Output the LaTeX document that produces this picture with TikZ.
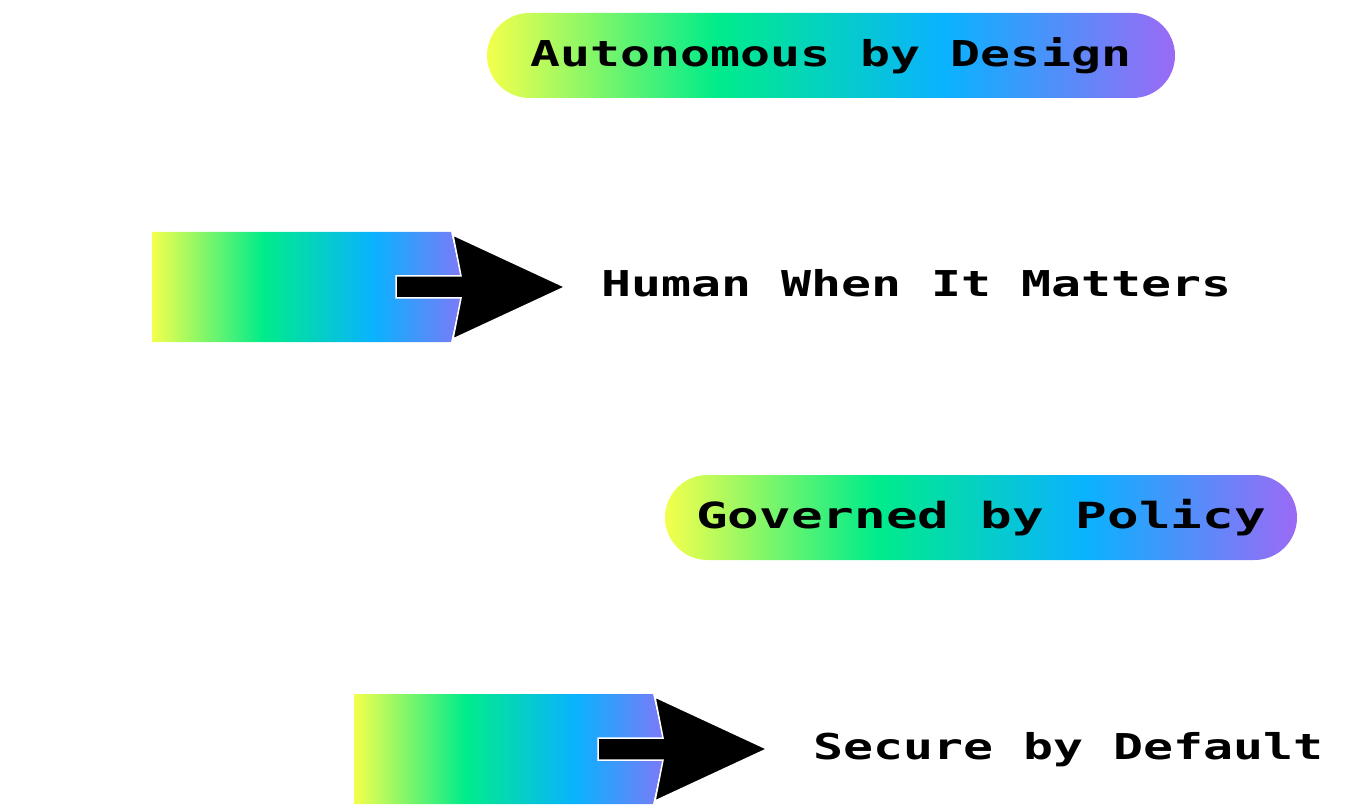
\documentclass[tikz,border=0pt]{standalone}
\usepackage{fontspec}
\newfontfamily\pixfont[FakeStretch=1.4]{DejaVu Sans Mono}
\newfontfamily\pixwide[FakeStretch=1.46]{DejaVu Sans Mono}
\usetikzlibrary{positioning}
\definecolor{gradYellow}{RGB}{244,255,76}
\definecolor{gradGreen}{RGB}{0,236,138}
\definecolor{gradBlue}{RGB}{10,178,255}
\definecolor{gradPurple}{RGB}{155,106,245}
\pgfdeclarehorizontalshading{rainbow}{100bp}{color(0bp)=(gradYellow); color(25bp)=(gradYellow);
  color(41.67bp)=(gradGreen); color(58.33bp)=(gradBlue); color(75bp)=(gradPurple); color(100bp)=(gradPurple)}
% gradient bar with a black arrow stuck in its right end
\newcommand{\gradarrow}[1]{%
  \begin{scope}[shift={#1}]
    \begin{scope}
      \clip (0,0) -- (299,0) -- (309,44) -- (309,66) -- (299,110) -- (0,110) -- cycle;
      \shade[shading=rainbow] (0,0) rectangle (333,110);
    \end{scope}
    \filldraw[fill=black, draw=white, line width=1.5pt]
      (244,44) -- (309,44) -- (301,3) -- (413,55) -- (301,107) -- (309,66) -- (244,66) -- cycle;
  \end{scope}}

\begin{document}
\begin{tikzpicture}[x=1pt, y=-1pt,
    pill/.style={shading=rainbow, rounded corners=42.5pt, minimum height=85pt,
                 inner sep=0pt, font=\pixfont\bfseries\fontsize{35.6}{40}\selectfont},
    label/.style={anchor=base west, inner sep=0pt, font=\pixfont\bfseries\fontsize{35.6}{40}\selectfont}
  ]
  \useasboundingbox (0,0) rectangle (1369,805);

  \node[pill, minimum width=688pt] (autoPill) at (831,55.5) {Autonomous by Design};

  \gradarrow{(152,232)}
  \node[label] (humanLabel) at (601,297) {Human When It Matters};

  \node[pill, minimum width=632pt, font=\pixwide\bfseries\fontsize{36}{40}\selectfont]
    (policyPill) at (981,517.5) {Governed by Policy};

  \gradarrow{(354,694)}
  \node[label] (secureLabel) at (813,759) {Secure by Default};
\end{tikzpicture}
\end{document}
